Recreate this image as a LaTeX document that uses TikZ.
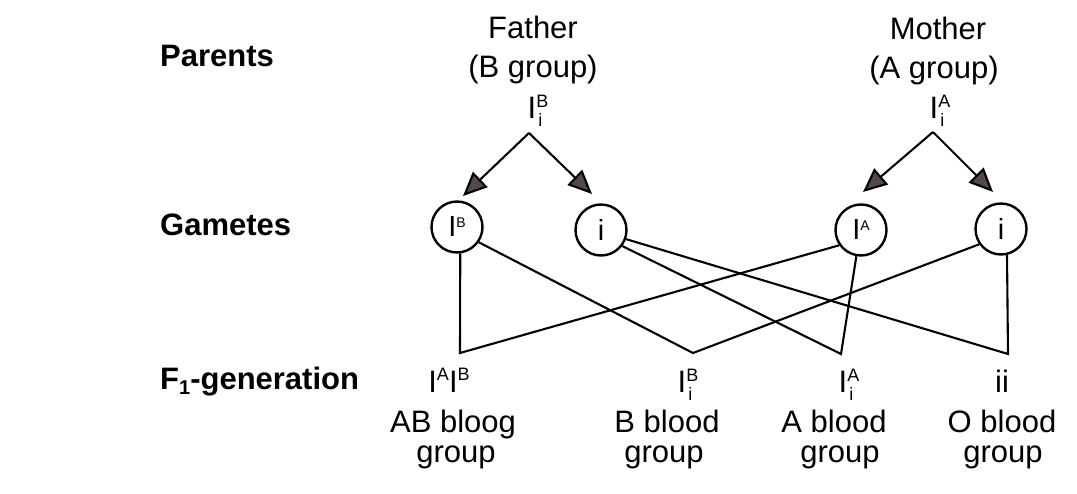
\documentclass[tikz,border=0pt]{standalone}
\usepackage{fontspec}
\setmainfont{Liberation Sans}
\usetikzlibrary{arrows.meta}
\definecolor{arrowfill}{RGB}{85,72,70}
\newcommand{\smallfs}{\fontsize{18}{18}\selectfont}
\newcommand{\gsupsub}[2]{I\rlap{\hspace{2pt}\raisebox{-8pt}{\smallfs #2}}\raisebox{11pt}{\smallfs #1}}
\newcommand{\gsup}[1]{\raisebox{12pt}{\smallfs #1}}
\newcommand{\csup}[1]{\raisebox{9pt}{\fontsize{14}{14}\selectfont #1}}
\begin{document}
\begin{tikzpicture}[x=1pt,y=-1pt,
  every node/.style={font=\fontsize{31}{36}\selectfont},
  lbl/.style={font=\fontsize{31}{36}\selectfont\bfseries, anchor=base west, inner sep=0},
  txt/.style={anchor=base, inner sep=0},
  gam/.style={circle, draw, line width=2.4pt, minimum size=51pt, inner sep=0, font=\fontsize{29}{34}\selectfont},
  link/.style={line width=2.1pt},
  arr/.style={line width=2.1pt, -{Triangle[length=24pt,width=21pt,fill=arrowfill]}}
]
\useasboundingbox (0,0) rectangle (1077,494);

% row labels
\node[lbl] (parents) at (160,67) {Parents};
\node[lbl] (gametes) at (160,236) {Gametes};
\node[lbl] (f1) at (160,390) {F\raisebox{-5pt}{\fontsize{20}{20}\selectfont 1}-generation};

% parents
\node[txt] (father) at (533,39) {Father};
\node[txt] (fgroup) at (533,78) {(B group)};
\node[txt] (fgen) at (538,119) {\gsupsub{B}{i}};
\node[txt] (mother) at (938,40) {Mother};
\node[txt] (mgroup) at (934,79) {(A group)};
\node[txt] (mgen) at (940,119) {\gsupsub{A}{i}};

\coordinate (apexF) at (529,133);
\coordinate (tipFL) at (463,196);
\coordinate (tipFR) at (592,194);
\coordinate (apexM) at (933,132);
\coordinate (tipML) at (863,192);
\coordinate (tipMR) at (993,192);

\draw[arr] (apexF) -- (tipFL);
\draw[arr] (apexF) -- (tipFR);
\draw[arr] (apexM) -- (tipML);
\draw[arr] (apexM) -- (tipMR);

% gametes
\node[gam] (gIB) at (457,227) {I\csup{B}};
\node[gam] (gBi) at (601,230) {i};
\node[gam] (gIA) at (861,230) {I\csup{A}};
\node[gam] (gOi) at (1001,229) {i};

% junctions
\coordinate (jAB) at (460,353);
\coordinate (jB) at (693,353);
\coordinate (jA) at (841,354);
\coordinate (jO) at (1008,354);

\draw[link] (gIB.-83) -- (jAB) -- (gIA.215);
\draw[link] (gIB.-35) -- (jB) -- (gOi.215);
\draw[link] (gBi.-37) -- (jA) -- (gIA.-100);
\draw[link] (gBi.-20) -- (jO) -- (gOi.-77);

% F1
\node[txt] (oAB) at (449,392) {I\gsup{A}I\gsup{B}};
\node[txt] (oB) at (688,392) {\gsupsub{B}{i}};
\node[txt] (oA) at (849,392) {\gsupsub{A}{i}};
\node[txt] (oO) at (1002,392) {ii};

\node[txt] (tAB1) at (453,432) {AB bloog};
\node[txt] (tAB2) at (456,462) {group};
\node[txt] (tB1) at (667,432) {B blood};
\node[txt] (tB2) at (664,462) {group};
\node[txt] (tA1) at (834,432) {A blood};
\node[txt] (tA2) at (840,462) {group};
\node[txt] (tO1) at (1002,432) {O blood};
\node[txt] (tO2) at (1003,462) {group};
\end{tikzpicture}
\end{document}
